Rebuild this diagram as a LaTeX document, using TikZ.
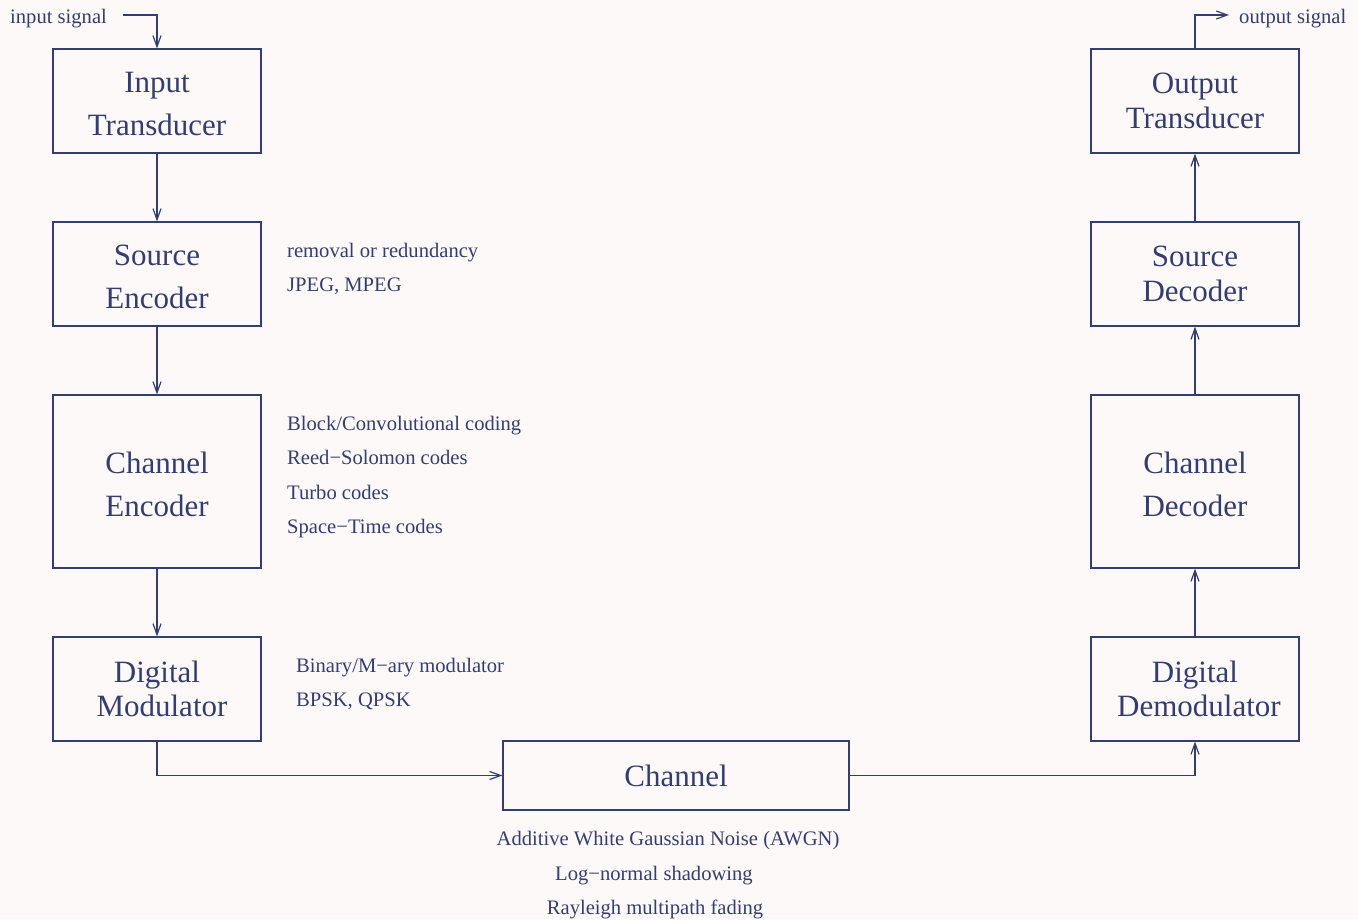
\documentclass[tikz,border=0pt]{standalone}
\usepackage{fontspec}
\setmainfont{Liberation Serif}
\usetikzlibrary{arrows.meta}
\definecolor{ink}{HTML}{343D70}
\definecolor{bg}{HTML}{FDF9F8}
\newcommand\lowerby{\rule{0pt}{27pt}}
\begin{document}
\begin{tikzpicture}[x=1pt,y=-1pt,
  box/.style={draw=ink, line width=1.2pt, minimum width=208pt, text=ink, align=center, inner sep=0pt},
  big43/.style={font=\fontsize{31}{43}\selectfont},
  big35/.style={font=\fontsize{31}{35}\selectfont},
  big34/.style={font=\fontsize{31}{34}\selectfont},
  lbl/.style={text=ink, font=\fontsize{20.6}{24}\selectfont, inner sep=0pt},
  arr/.style={draw=ink, line width=1.2pt, -{Straight Barb[length=11pt,width=8pt]}},
  ln/.style={draw=ink, line width=1.2pt}]
\fill[bg] (0,0) rectangle (1358,919);
\useasboundingbox (0,0) rectangle (1358,919);
% left column
\node[box, big43, minimum height=104pt] (it) at (157,101) {\lowerby Input\\Transducer};
\node[box, big43, minimum height=104pt] (se) at (157,274) {\lowerby Source\\Encoder};
\node[box, big43, minimum height=173pt] (ce) at (157,481.5) {\lowerby Channel\\Encoder};
\node[box, big34, minimum height=104pt] (dm) at (157,689) {Digital\\\hspace*{10pt}Modulator};
% right column
\node[box, big35, minimum height=104pt] (ot) at (1195,101) {Output\\Transducer};
\node[box, big35, minimum height=104pt] (sd) at (1195,274) {Source\\Decoder};
\node[box, big43, minimum height=173pt] (cd) at (1195,481.5) {\lowerby Channel\\Decoder};
\node[box, big34, minimum height=104pt] (dd) at (1195,689) {Digital\\\hspace*{8pt}Demodulator};
% channel
\node[box, big43, minimum width=346pt, minimum height=69pt] (ch) at (676,775.5) {Channel};
% in/out signals
\node[lbl, anchor=base west] (insig) at (10,23) {input signal};
\node[lbl, anchor=base west] (outsig) at (1239,23) {output signal};
\coordinate (inS) at (123,15);
\coordinate (outE) at (1229,15);
\draw[arr] (inS) -| (it.north);
\draw[arr] (ot.north) |- (outE);
% vertical arrows
\draw[arr] (it) -- (se);
\draw[arr] (se) -- (ce);
\draw[arr] (ce) -- (dm);
\draw[arr] (dd) -- (cd);
\draw[arr] (cd) -- (sd);
\draw[arr] (sd) -- (ot);
\draw[arr] (dm.south) |- (ch.west);
\draw[arr] (ch.east) -| (dd.south);
% side labels
\node[lbl, anchor=base west] (l1) at (287,257) {removal or redundancy};
\node[lbl, anchor=base west] (l2) at (287,291) {JPEG, MPEG};
\node[lbl, anchor=base west] (l3) at (287,430) {Block/Convolutional coding};
\node[lbl, anchor=base west] (l4) at (287,464) {Reed−Solomon codes};
\node[lbl, anchor=base west] (l5) at (287,499) {Turbo codes};
\node[lbl, anchor=base west] (l6) at (287,533) {Space−Time codes};
\node[lbl, anchor=base west] (l7) at (296,672) {Binary/M−ary modulator};
\node[lbl, anchor=base west] (l8) at (296,706) {BPSK, QPSK};
\node[lbl, anchor=base] (l9) at (668,845) {Additive White Gaussian Noise (AWGN)};
\node[lbl, anchor=base] (l10) at (654,880) {Log−normal shadowing};
\node[lbl, anchor=base] (l11) at (655,914) {Rayleigh multipath fading};
\end{tikzpicture}
\end{document}
